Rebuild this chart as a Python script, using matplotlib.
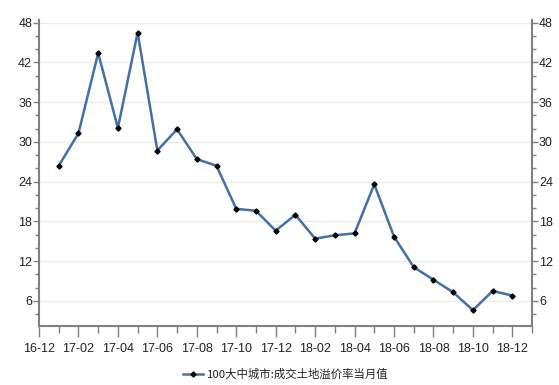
import matplotlib
matplotlib.use("Agg")
import matplotlib.pyplot as plt
from matplotlib.ticker import MultipleLocator, FixedLocator

# monthly land premium rate, 100 large & medium cities
months = ["17-01", "17-02", "17-03", "17-04", "17-05", "17-06", "17-07", "17-08",
          "17-09", "17-10", "17-11", "17-12", "18-01", "18-02", "18-03", "18-04",
          "18-05", "18-06", "18-07", "18-08", "18-09", "18-10", "18-11", "18-12"]
values = [26.4, 31.3, 43.4, 32.1, 46.5, 28.7, 31.9, 27.4,
          26.4, 19.9, 19.6, 16.6, 19.0, 15.4, 15.9, 16.2,
          23.6, 15.7, 11.1, 9.2, 7.3, 4.6, 7.5, 6.8]
axis_months = ["16-12"] + months
series_name = "100大中城市:成交土地溢价率当月值"

narrow = ["Liberation Sans Narrow", "Liberation Sans", "DejaVu Sans"]
cjk = ["Noto Sans CJK SC", "DejaVu Sans"]

fig = plt.figure(figsize=(5.59, 3.85), dpi=100)
ax = fig.add_axes([0.0698, 0.153, 0.8820, 0.796])

x = list(range(1, len(months) + 1))
ax.plot(x, values, color="#4270aa", lw=1.8, marker="D", ms=2.6,
        mfc="black", mec="black", label=series_name, zorder=3)

ax.set_xlim(0, 25)
ax.set_ylim(2.2, 48.45)

# x axis: label every 2nd month, tick every month
major_pos = list(range(0, 25, 2))
ax.xaxis.set_major_locator(FixedLocator(major_pos))
ax.xaxis.set_minor_locator(MultipleLocator(1))
ax.set_xticklabels([axis_months[i] for i in major_pos], family=narrow,
                   fontsize=9, color="#222222")

ax.yaxis.set_major_locator(FixedLocator([6, 12, 18, 24, 30, 36, 42, 48]))
ax.yaxis.set_minor_locator(MultipleLocator(2))
ax.tick_params(axis="y", which="both", left=True, right=True,
               labelleft=True, labelright=True, colors="#808080",
               labelcolor="#222222", labelsize=9, pad=1)
ax.tick_params(axis="y", which="major", length=4, width=1)
ax.tick_params(axis="y", which="minor", length=3, width=1)
ax.tick_params(axis="x", which="both", colors="#808080", labelcolor="#222222",
               width=1, pad=4)
ax.tick_params(axis="x", which="major", length=8)
ax.tick_params(axis="x", which="minor", length=5)
for lab in ax.get_yticklabels():
    lab.set_family(narrow)

ax.grid(axis="y", which="major", color="#ececec", lw=1)
ax.set_axisbelow(True)

ax.spines["top"].set_visible(False)
for s in ["left", "right", "bottom"]:
    ax.spines[s].set_color("#808080")
    ax.spines[s].set_linewidth(1.5)

leg = ax.legend(loc="upper center", bbox_to_anchor=(0.5, -0.105), frameon=False,
                prop={"family": cjk, "size": 8.2}, handlelength=1.8,
                handletextpad=0.3)
for t in leg.get_texts():
    t.set_color("#222222")

fig.savefig("out.png", dpi=100)
